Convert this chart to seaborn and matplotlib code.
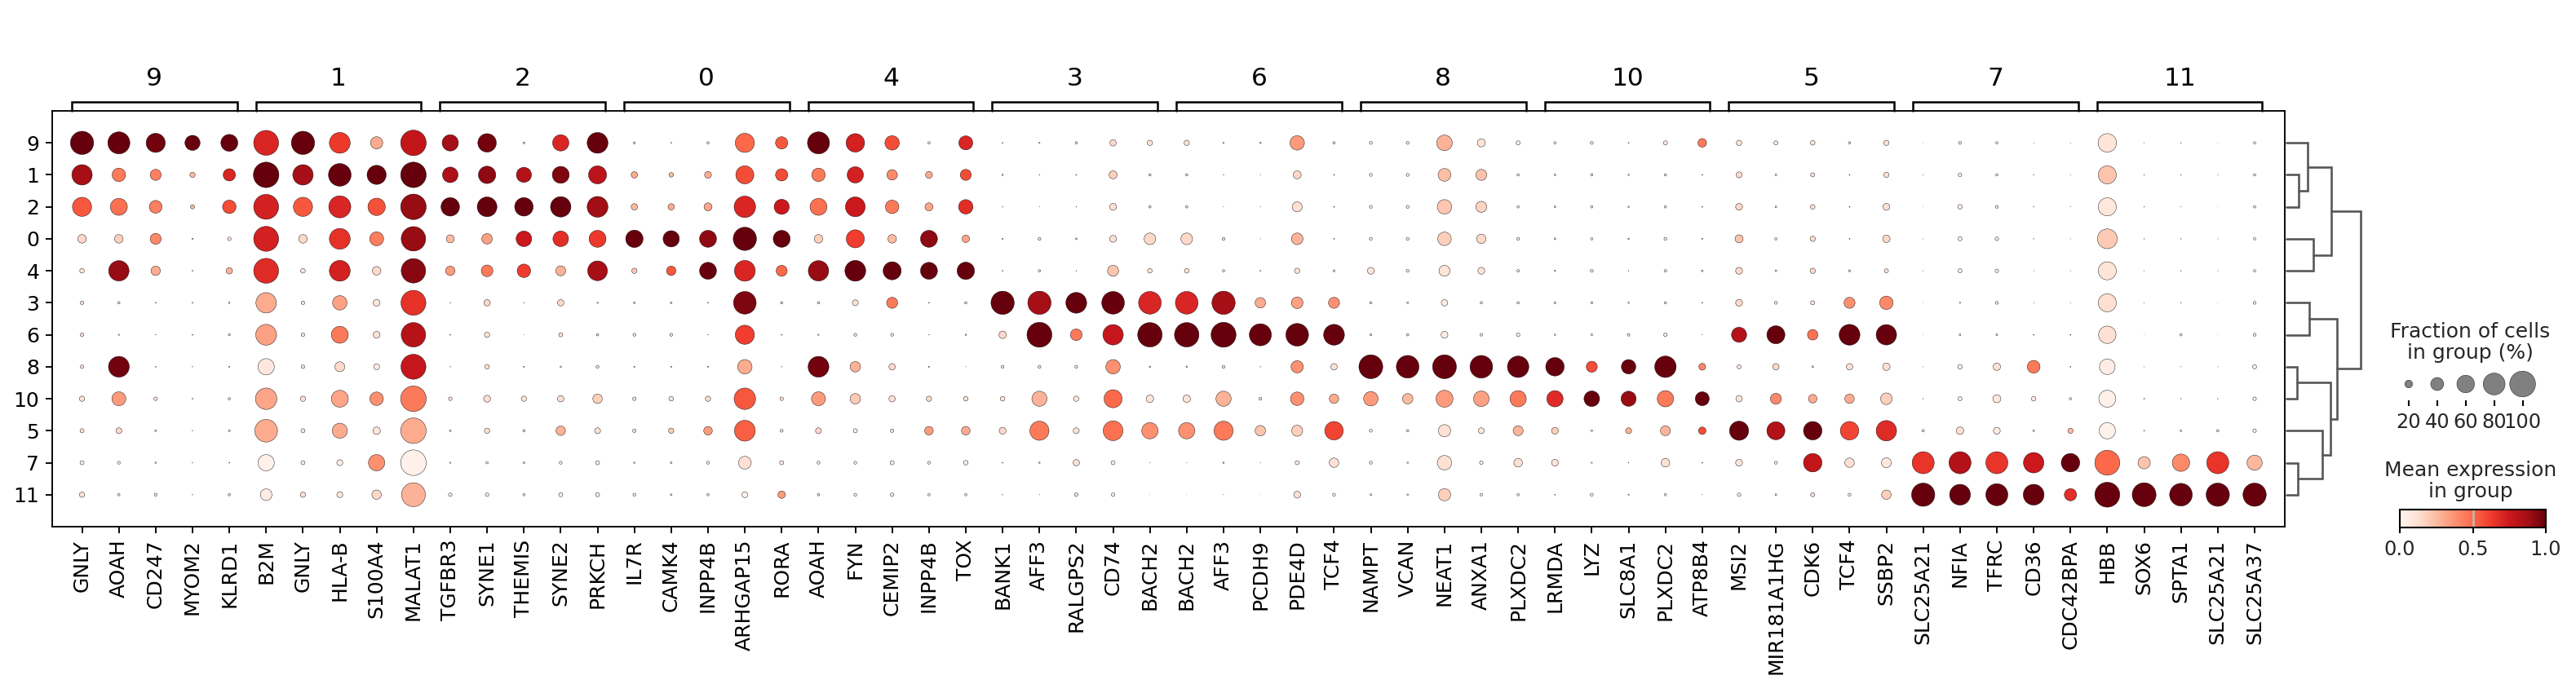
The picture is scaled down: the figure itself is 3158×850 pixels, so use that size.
import numpy as np
import pandas as pd
import matplotlib
matplotlib.use("Agg")
import matplotlib.pyplot as plt
import matplotlib.transforms as mtransforms
from matplotlib.cm import ScalarMappable
from matplotlib.colors import Normalize
import seaborn as sns

# ---------------- data ----------------
clusters = ["9", "1", "2", "0", "4", "3", "6", "8", "10", "5", "7", "11"]

# each group: genes, fraction of cells (%) per gene (rows in cluster order), mean expression (0-1)
genes_9 = ["GNLY", "AOAH", "CD247", "MYOM2", "KLRD1"]
frac_9 = [
    [87, 73, 67, 23, 10, 7, 7, 7, 12, 8.5, 8.5, 12],
    [81, 42, 57, 23, 73, 4, 1.6, 75, 44, 14, 5.4, 4],
    [67, 32, 39, 32, 26, 1.1, 0.6, 1.1, 7, 2.7, 2.1, 5.4],
    [49, 12, 8.5, 1.6, 1.1, 1.1, 1.1, 0.6, 1.1, 0.6, 0.6, 0.6],
    [57, 37, 42, 7, 15.5, 2.1, 3.3, 1.6, 4, 2.7, 1.1, 4],
]
expr_9 = [
    [1.0, 0.87, 0.55, 0.15, 0.1, 0.1, 0.1, 0.1, 0.12, 0.1, 0.05, 0.12],
    [1.0, 0.45, 0.48, 0.18, 0.9, 0.1, 0.1, 0.98, 0.35, 0.15, 0.05, 0.1],
    [0.98, 0.43, 0.43, 0.4, 0.3, 0.1, 0.1, 0.1, 0.1, 0.1, 0.1, 0.1],
    [1.0, 0.25, 0.25, 0.2, 0.1, 0.1, 0.1, 0.1, 0.1, 0.1, 0.1, 0.1],
    [1.0, 0.7, 0.58, 0.1, 0.28, 0.1, 0.1, 0.1, 0.1, 0.1, 0.1, 0.1],
]

genes_1 = ["B2M", "GNLY", "HLA-B", "S100A4", "MALAT1"]
frac_1 = [
    [95.5, 98.5, 95.5, 95.5, 95.5, 73, 75, 54, 78, 84, 54, 34.5],
    [87, 73, 67, 23, 10, 7, 7, 7, 12, 8.5, 8.5, 12],
    [75, 84, 81, 75, 75, 46, 57, 28, 57, 49, 14, 14],
    [37, 67, 59, 44, 23, 17, 17, 14, 42, 19, 54, 26],
    [98.5, 98.5, 98.5, 93, 93, 95.5, 93, 95.5, 98.5, 98.5, 98.5, 90],
]
expr_1 = [
    [0.7, 1.0, 0.72, 0.72, 0.68, 0.3, 0.33, 0.08, 0.32, 0.3, 0.03, 0.05],
    [1.0, 0.87, 0.55, 0.15, 0.1, 0.1, 0.1, 0.1, 0.12, 0.1, 0.05, 0.12],
    [0.63, 1.0, 0.7, 0.66, 0.72, 0.33, 0.45, 0.15, 0.32, 0.3, 0.05, 0.08],
    [0.3, 1.0, 0.57, 0.44, 0.15, 0.1, 0.12, 0.05, 0.38, 0.1, 0.38, 0.15],
    [0.78, 1.0, 0.9, 0.9, 0.93, 0.66, 0.82, 0.77, 0.45, 0.3, 0.03, 0.28],
]

genes_2 = ["TGFBR3", "SYNE1", "THEMIS", "SYNE2", "PRKCH"]
frac_2 = [
    [54, 51, 64, 21, 26, 0.6, 1.1, 0.6, 7, 2.7, 1.6, 7],
    [64, 59, 70, 30, 34.5, 15.5, 12, 10, 17, 12, 4, 7],
    [2.7, 49, 64, 51, 42, 0.6, 0.2, 1.6, 12, 4, 2.7, 4],
    [54, 57, 73, 51, 28, 15.5, 8.5, 2.1, 15.5, 26, 5.4, 8.5],
    [75, 62, 75, 57, 70, 1.6, 4, 5.4, 26, 14, 8.5, 8.5],
]
expr_2 = [
    [0.87, 0.85, 1.0, 0.25, 0.35, 0.1, 0.1, 0.1, 0.1, 0.1, 0.05, 0.05],
    [0.98, 0.92, 1.0, 0.33, 0.45, 0.15, 0.1, 0.1, 0.12, 0.12, 0.05, 0.05],
    [0.2, 0.83, 1.0, 0.75, 0.62, 0.1, 0.05, 0.1, 0.1, 0.1, 0.05, 0.05],
    [0.7, 0.95, 1.0, 0.67, 0.28, 0.15, 0.12, 0.1, 0.12, 0.28, 0.05, 0.05],
    [1.0, 0.8, 0.88, 0.63, 0.87, 0.1, 0.1, 0.1, 0.18, 0.12, 0.05, 0.05],
]

genes_0 = ["IL7R", "CAMK4", "INPP4B", "ARHGAP15", "RORA"]
frac_0 = [
    [3.3, 15.5, 15.5, 59, 12, 2.7, 5.4, 1.6, 7, 7, 2.1, 5.4],
    [1.1, 10, 15.5, 54, 26, 2.7, 5.4, 1.6, 10, 12, 2.7, 2.7],
    [4, 17, 21, 57, 57, 1.1, 0.6, 1.6, 12, 23, 5.4, 4],
    [67, 62, 78, 87, 75, 84, 67, 46, 78, 75, 39, 14],
    [37, 37, 49, 57, 32, 4, 1.1, 0.6, 7, 5.4, 8.5, 19],
]
expr_0 = [
    [0.15, 0.3, 0.25, 1.0, 0.2, 0.1, 0.1, 0.1, 0.1, 0.1, 0.05, 0.05],
    [0.1, 0.25, 0.3, 1.0, 0.55, 0.1, 0.1, 0.1, 0.1, 0.2, 0.05, 0.05],
    [0.1, 0.3, 0.32, 0.92, 1.0, 0.1, 0.1, 0.1, 0.15, 0.35, 0.05, 0.05],
    [0.5, 0.58, 0.7, 1.0, 0.7, 0.95, 0.62, 0.3, 0.55, 0.53, 0.12, 0.02],
    [0.55, 0.58, 0.75, 1.0, 0.5, 0.1, 0.1, 0.1, 0.1, 0.1, 0.05, 0.35],
]

genes_4 = ["AOAH", "FYN", "CEMIP2", "INPP4B", "TOX"]
frac_4 = [
    [81, 42, 57, 23, 73, 4, 1.6, 75, 44, 14, 5.4, 4],
    [64, 54, 70, 62, 75, 14, 5.4, 30, 30, 8.5, 5.4, 5.4],
    [46, 30, 42, 23, 62, 32, 5.4, 15.5, 15.5, 7, 8.5, 7],
    [4, 17, 21, 57, 57, 1.1, 0.6, 1.6, 12, 23, 5.4, 4],
    [44, 32, 46, 19, 59, 4, 2.1, 0.3, 10, 23, 10, 4],
]
expr_4 = [
    [1.0, 0.45, 0.48, 0.18, 0.9, 0.1, 0.1, 0.98, 0.35, 0.15, 0.05, 0.1],
    [0.72, 0.72, 0.75, 0.62, 1.0, 0.12, 0.1, 0.28, 0.2, 0.05, 0.05, 0.05],
    [0.58, 0.4, 0.45, 0.25, 1.0, 0.45, 0.1, 0.15, 0.12, 0.1, 0.05, 0.05],
    [0.1, 0.3, 0.32, 0.92, 1.0, 0.1, 0.1, 0.1, 0.15, 0.35, 0.05, 0.05],
    [0.7, 0.58, 0.67, 0.32, 1.0, 0.1, 0.1, 0.1, 0.1, 0.3, 0.05, 0.05],
]

genes_3 = ["BANK1", "AFF3", "RALGPS2", "CD74", "BACH2"]
frac_3 = [
    [1.1, 2.1, 0.6, 1.6, 1.1, 87, 19, 5.4, 10, 17, 1.1, 0.6],
    [1.6, 0.6, 0.3, 5.4, 4, 87, 95.5, 5.4, 49, 67, 2.1, 0.3],
    [4, 1.1, 0.6, 2.7, 0.6, 75, 34.5, 5.4, 12, 14, 15.5, 7],
    [15.5, 21, 17, 17, 32, 84, 73, 46, 62, 70, 8.5, 7],
    [12, 4, 4, 34.5, 10, 84, 93, 2.1, 19, 54, 0.3, 0.1],
]
expr_3 = [
    [0.1, 0.1, 0.1, 0.1, 0.1, 1.0, 0.15, 0.1, 0.1, 0.15, 0.1, 0.1],
    [0.1, 0.1, 0.1, 0.1, 0.1, 0.87, 1.0, 0.1, 0.28, 0.45, 0.1, 0.1],
    [0.1, 0.1, 0.1, 0.1, 0.1, 1.0, 0.45, 0.1, 0.08, 0.12, 0.12, 0.1],
    [0.15, 0.18, 0.12, 0.12, 0.22, 1.0, 0.77, 0.38, 0.5, 0.48, 0.05, 0.05],
    [0.1, 0.1, 0.1, 0.15, 0.1, 0.7, 1.0, 0.1, 0.1, 0.38, 0.1, 0.05],
]

genes_6 = ["BACH2", "AFF3", "PCDH9", "PDE4D", "TCF4"]
frac_6 = [
    [12, 4, 4, 34.5, 10, 84, 93, 2.1, 19, 54, 0.3, 0.1],
    [1.6, 0.6, 0.3, 5.4, 4, 87, 95.5, 5.4, 49, 67, 2.1, 0.3],
    [2.1, 0.3, 0.3, 0.3, 1.1, 30, 81, 0.6, 5.4, 30, 0.3, 0.1],
    [46, 21, 28, 34.5, 12, 34.5, 84, 37, 42, 32, 8.5, 17],
    [4, 1.1, 1.1, 1.1, 3.3, 32, 75, 15.5, 26, 64, 26, 5.4],
]
expr_6 = [
    [0.1, 0.1, 0.1, 0.15, 0.1, 0.7, 1.0, 0.1, 0.1, 0.38, 0.1, 0.05],
    [0.1, 0.1, 0.1, 0.1, 0.1, 0.87, 1.0, 0.1, 0.28, 0.45, 0.1, 0.1],
    [0.1, 0.1, 0.1, 0.1, 0.1, 0.3, 1.0, 0.1, 0.1, 0.22, 0.1, 0.05],
    [0.35, 0.15, 0.13, 0.27, 0.1, 0.33, 1.0, 0.38, 0.38, 0.18, 0.05, 0.12],
    [0.1, 0.1, 0.1, 0.1, 0.1, 0.38, 1.0, 0.12, 0.3, 0.6, 0.12, 0.05],
]

genes_8 = ["NAMPT", "VCAN", "NEAT1", "ANXA1", "PLXDC2"]
frac_8 = [
    [5.4, 5.4, 5.4, 5.4, 17, 4, 3.3, 90, 46, 5.4, 5.4, 2.7],
    [5.4, 5.4, 5.4, 5.4, 5.4, 2.7, 4, 84, 30, 4, 2.1, 2.1],
    [51, 39, 46, 42, 32, 15.5, 17, 90, 57, 37, 46, 37],
    [21, 32, 32, 26, 17, 4, 4.7, 84, 51, 14, 7, 4.7],
    [8.5, 4, 4, 5.4, 4.7, 4, 7, 78, 54, 28, 23, 4],
]
expr_8 = [
    [0.05, 0.05, 0.05, 0.05, 0.1, 0.05, 0.05, 1.0, 0.35, 0.05, 0.05, 0.05],
    [0.05, 0.05, 0.05, 0.05, 0.05, 0.05, 0.05, 1.0, 0.25, 0.05, 0.05, 0.05],
    [0.28, 0.24, 0.21, 0.18, 0.1, 0.05, 0.05, 1.0, 0.35, 0.12, 0.12, 0.18],
    [0.1, 0.23, 0.17, 0.15, 0.1, 0.05, 0.05, 1.0, 0.33, 0.1, 0.05, 0.05],
    [0.05, 0.05, 0.05, 0.05, 0.05, 0.05, 0.05, 1.0, 0.45, 0.27, 0.12, 0.05],
]

genes_10 = ["LRMDA", "LYZ", "SLC8A1", "PLXDC2", "ATP8B4"]
frac_10 = [
    [4, 2.7, 2.7, 2.7, 2.1, 3.3, 2.1, 64, 54, 17, 17, 1.1],
    [5.4, 4, 4, 4, 5.4, 3.3, 2.7, 32, 51, 2.7, 1.6, 5.4],
    [1.1, 2.1, 2.1, 2.1, 0.6, 2.1, 4.7, 46, 49, 14, 0.6, 1.6],
    [8.5, 4, 4, 5.4, 4.7, 4, 7, 78, 54, 28, 23, 4],
    [23, 1.1, 1.1, 1.6, 2.7, 1.1, 0.3, 17, 44, 19, 1.1, 0.3],
]
expr_10 = [
    [0.05, 0.05, 0.05, 0.05, 0.05, 0.05, 0.05, 1.0, 0.68, 0.18, 0.1, 0.05],
    [0.05, 0.05, 0.05, 0.05, 0.05, 0.05, 0.05, 0.58, 1.0, 0.05, 0.05, 0.05],
    [0.05, 0.05, 0.05, 0.05, 0.05, 0.05, 0.05, 1.0, 0.9, 0.28, 0.05, 0.05],
    [0.05, 0.05, 0.05, 0.05, 0.05, 0.05, 0.05, 1.0, 0.45, 0.27, 0.12, 0.05],
    [0.45, 0.1, 0.1, 0.1, 0.1, 0.1, 0.1, 0.42, 1.0, 0.58, 0.1, 0.1],
]

genes_5 = ["MSI2", "MIR181A1HG", "CDK6", "TCF4", "SSBP2"]
frac_5 = [
    [12, 14, 17, 21, 17, 17, 49, 8.5, 15.5, 67, 17, 7],
    [8.5, 2.7, 2.7, 4, 2.7, 5.4, 62, 15.5, 32, 62, 5.4, 2.7],
    [10, 8.5, 10, 12, 12, 8.5, 30, 2.7, 23, 64, 64, 8.5],
    [4, 1.1, 1.1, 1.1, 3.3, 32, 75, 15.5, 26, 64, 26, 5.4],
    [12, 12, 17, 19, 8.5, 42, 73, 19, 34.5, 73, 28, 26],
]
expr_5 = [
    [0.1, 0.15, 0.15, 0.22, 0.15, 0.15, 0.83, 0.08, 0.1, 1.0, 0.1, 0.05],
    [0.08, 0.05, 0.05, 0.05, 0.05, 0.05, 1.0, 0.15, 0.4, 0.83, 0.05, 0.05],
    [0.1, 0.12, 0.12, 0.15, 0.15, 0.1, 0.47, 0.05, 0.3, 1.0, 0.78, 0.12],
    [0.1, 0.1, 0.1, 0.1, 0.1, 0.38, 1.0, 0.12, 0.3, 0.6, 0.12, 0.05],
    [0.1, 0.1, 0.12, 0.15, 0.1, 0.4, 1.0, 0.12, 0.18, 0.68, 0.08, 0.18],
]

genes_7 = ["SLC25A21", "NFIA", "TFRC", "CD36", "CDC42BPA"]
frac_7 = [
    [0.1, 0.3, 0.1, 0.3, 0.3, 0.1, 0.1, 0.3, 0.6, 4, 81, 87],
    [5.4, 7, 10, 8.5, 8.5, 1.6, 2.7, 10, 8.5, 19, 81, 75],
    [4, 4, 5.4, 7, 7, 5.4, 2.7, 19, 21, 17, 81, 81],
    [0.3, 0.6, 0.6, 0.6, 0.3, 0.3, 1.1, 39, 10, 2.7, 73, 75],
    [0.3, 0.3, 0.3, 0.3, 0.3, 0.3, 1.1, 1.1, 4, 12, 64, 37],
]
expr_7 = [
    [0.05, 0.05, 0.05, 0.05, 0.05, 0.05, 0.05, 0.05, 0.05, 0.1, 0.65, 1.0],
    [0.05, 0.05, 0.05, 0.05, 0.05, 0.05, 0.05, 0.05, 0.05, 0.12, 0.83, 1.0],
    [0.05, 0.05, 0.05, 0.05, 0.05, 0.05, 0.05, 0.12, 0.08, 0.07, 0.65, 1.0],
    [0.05, 0.05, 0.05, 0.05, 0.05, 0.05, 0.05, 0.45, 0.05, 0.05, 0.75, 1.0],
    [0.05, 0.05, 0.05, 0.05, 0.05, 0.05, 0.05, 0.05, 0.05, 0.25, 1.0, 0.67],
]

genes_11 = ["HBB", "SOX6", "SPTA1", "SLC25A21", "SLC25A37"]
frac_11 = [
    [64, 62, 62, 70, 62, 62, 59, 51, 57, 54, 95.5, 95.5],
    [0.3, 0.6, 0.6, 0.6, 0.3, 0.3, 0.1, 0.3, 1.1, 1.1, 37, 90],
    [0.6, 0.6, 0.3, 0.6, 0.6, 0.6, 4, 0.3, 0.6, 2.7, 59, 84],
    [0.1, 0.3, 0.1, 0.3, 0.3, 0.1, 0.1, 0.3, 0.6, 4, 81, 87],
    [4, 4, 4, 4, 4, 5.4, 5.4, 8.5, 7, 7, 49, 87],
]
expr_11 = [
    [0.1, 0.22, 0.08, 0.2, 0.1, 0.13, 0.12, 0.05, 0.03, 0.02, 0.5, 1.0],
    [0.05, 0.05, 0.05, 0.05, 0.05, 0.05, 0.05, 0.05, 0.05, 0.05, 0.22, 1.0],
    [0.05, 0.05, 0.05, 0.05, 0.05, 0.05, 0.05, 0.05, 0.05, 0.05, 0.4, 1.0],
    [0.05, 0.05, 0.05, 0.05, 0.05, 0.05, 0.05, 0.05, 0.05, 0.1, 0.65, 1.0],
    [0.05, 0.05, 0.05, 0.05, 0.05, 0.05, 0.05, 0.05, 0.05, 0.05, 0.26, 1.0],
]

group_labels = ["9", "1", "2", "0", "4", "3", "6", "8", "10", "5", "7", "11"]
group_genes = [genes_9, genes_1, genes_2, genes_0, genes_4, genes_3, genes_6,
               genes_8, genes_10, genes_5, genes_7, genes_11]
group_frac = [frac_9, frac_1, frac_2, frac_0, frac_4, frac_3, frac_6,
              frac_8, frac_10, frac_5, frac_7, frac_11]
group_expr = [expr_9, expr_1, expr_2, expr_0, expr_4, expr_3, expr_6,
              expr_8, expr_10, expr_5, expr_7, expr_11]

# dendrogram of clusters: (child a, child b, height); leaves = row indices 0..11
dendro_links = [
    (1, 2, 47), (0, 12, 79), (3, 4, 101), (13, 14, 168),
    (5, 6, 85), (7, 8, 40), (10, 11, 44), (9, 18, 134),
    (17, 19, 163), (16, 20, 188), (15, 21, 277),
]

size_legend_pct = [20, 40, 60, 80, 100]
size_legend_labels = ["20", "40", "60", "80", "100"]
cbar_ticks = [0.0, 0.5, 1.0]

# ---------------- table ----------------
records = []
all_genes = []
group_spans = []
col = 0
for glabel, genes, fr, ex in zip(group_labels, group_genes, group_frac, group_expr):
    start = col
    for g, fvals, evals in zip(genes, fr, ex):
        for r, (f, e) in enumerate(zip(fvals, evals)):
            records.append({"col": col, "row": r, "frac": f / 100.0, "expr": e})
        all_genes.append(g)
        col += 1
    group_spans.append((glabel, start, col - 1))
df = pd.DataFrame(records)
df["size_val"] = df["frac"] ** 1.5

# ---------------- figure ----------------
W, H, DPI = 3158, 850, 150
sns.set_theme(style="ticks")
plt.rcParams["font.family"] = ["DejaVu Sans"]
fig = plt.figure(figsize=(W / DPI, H / DPI), dpi=DPI)
fig.patch.set_facecolor("white")


def px_axes(x0, y0, x1, y1):
    return fig.add_axes([x0 / W, 1 - y1 / H, (x1 - x0) / W, (y1 - y0) / H])


SMAX = 231.0  # marker area for 100 %

ax = px_axes(64, 136, 2801, 646)
sns.scatterplot(data=df, x="col", y="row", hue="expr", palette="Reds", hue_norm=(0, 1),
                size="size_val", sizes=(0, SMAX), size_norm=(0, 1),
                edgecolor="black", linewidth=0.2, legend=False, ax=ax, zorder=3)
ax.set_xlim(-0.81, 59.82)
ax.set_ylim(12, -1)
ax.set_xticks(range(len(all_genes)))
ax.set_xticklabels(all_genes, rotation=90, fontsize=12)
ax.set_yticks(range(len(clusters)))
ax.set_yticklabels(clusters, fontsize=12)
ax.set_xlabel("")
ax.set_ylabel("")
ax.tick_params(axis="both", length=4, width=0.9, color="black", labelcolor="black",
               bottom=True, left=True)
for sp in ax.spines.values():
    sp.set_visible(True)
    sp.set_color("black")
    sp.set_linewidth(0.9)
ax.grid(False)

# group brackets
trans = mtransforms.blended_transform_factory(ax.transData, ax.transAxes)
yb = 1.0206
for glabel, s, e in group_spans:
    left, right = s - 0.28, e + 0.21
    ax.plot([left, left, right, right], [1.0, yb, yb, 1.0], transform=trans,
            color="black", lw=1.2, clip_on=False, solid_joinstyle="miter")
    ax.text((left + right) / 2, 1.0776, glabel, transform=trans, ha="center",
            va="center", fontsize=15, color="black")

# dendrogram
dax = px_axes(2803, 136, 2894, 646)
dax.set_xlim(0, 277)
dax.set_ylim(12, -1)
dax.axis("off")
node_y = {i: float(i) for i in range(len(clusters))}
node_h = {i: 0.0 for i in range(len(clusters))}
nid = len(clusters)
for a, b, h in dendro_links:
    ya, yb2 = node_y[a], node_y[b]
    dax.plot([node_h[a], h, h, node_h[b]], [ya, ya, yb2, yb2], color="#555555",
             lw=1.25, clip_on=False, solid_joinstyle="miter")
    node_y[nid] = (ya + yb2) / 2
    node_h[nid] = h
    nid += 1

# size legend
fig.text(3028 / W, 1 - 420 / H, "Fraction of cells\nin group (%)", ha="center",
         va="center", fontsize=12, linespacing=1.1)
sax = px_axes(2935.5, 451, 3110, 491)
leg_df = pd.DataFrame({"x": range(len(size_legend_pct)),
                       "y": [0] * len(size_legend_pct),
                       "s": [(p / 100.0) ** 1.5 for p in size_legend_pct]})
sns.scatterplot(data=leg_df, x="x", y="y", size="s", sizes=(0, SMAX), size_norm=(0, 1),
                color="gray", edgecolor="black", linewidth=0.2, legend=False, ax=sax)
sax.set_xlim(-0.5, len(size_legend_pct) - 0.5)
sax.set_ylim(-1, 1)
sax.set_xticks(range(len(size_legend_pct)))
sax.set_xticklabels(size_legend_labels, fontsize=11.5)
sax.set_yticks([])
sax.set_xlabel("")
sax.set_ylabel("")
sax.tick_params(axis="x", length=3.5, width=1, color="black", bottom=True)
for sp in sax.spines.values():
    sp.set_visible(False)
sax.patch.set_alpha(0)

# colorbar
fig.text(3029 / W, 1 - 590 / H, "Mean expression\nin group", ha="center",
         va="center", fontsize=12, linespacing=1.1)
cax = px_axes(2942, 625, 3121, 647)
cb = fig.colorbar(ScalarMappable(norm=Normalize(0, 1), cmap="Reds"), cax=cax,
                  orientation="horizontal")
cb.set_ticks(cbar_ticks)
cb.set_ticklabels(["0.0", "0.5", "1.0"])
cax.tick_params(labelsize=11.5, length=3.5, width=1, color="black")
cb.outline.set_linewidth(1.0)
cb.outline.set_edgecolor("black")
cax.axvline(0.5, color="#bdbdbd", lw=1.2)

fig.savefig("out.png", dpi=DPI, facecolor="white")
